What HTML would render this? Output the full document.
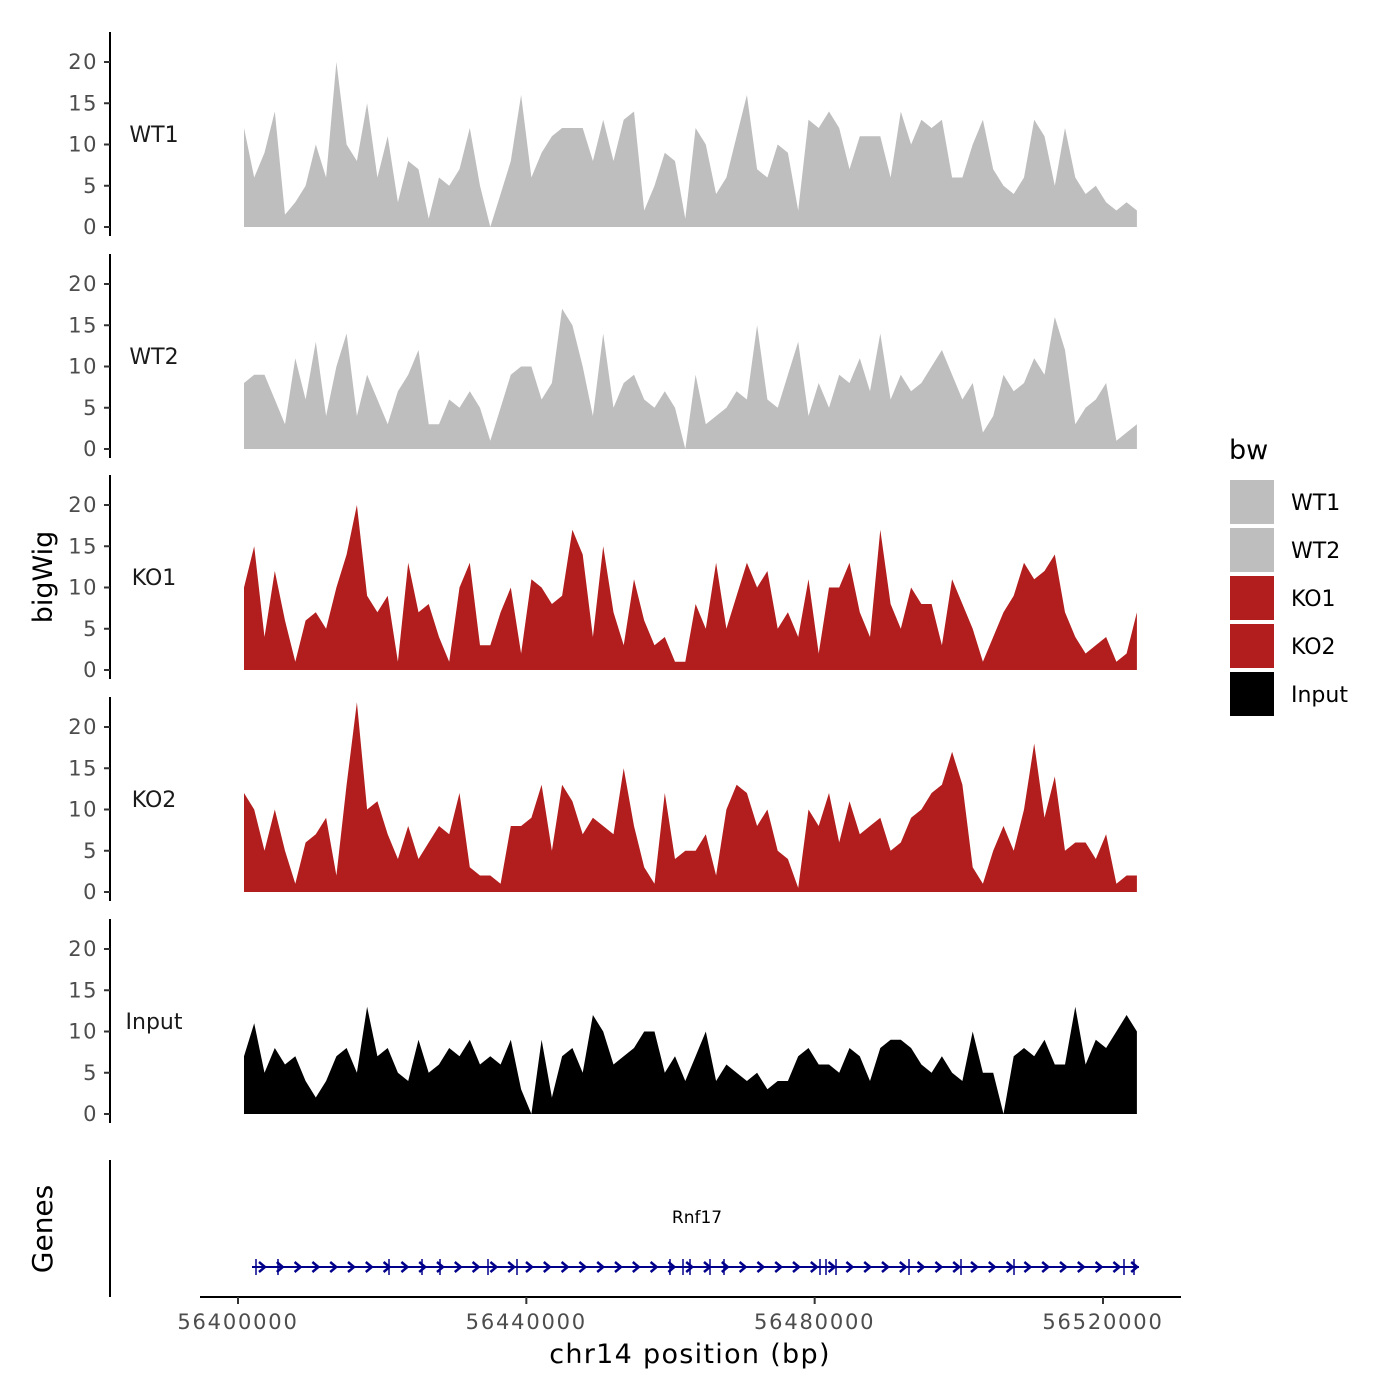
<!DOCTYPE html>
<html><head><meta charset="utf-8"><style>
html,body{margin:0;padding:0;background:#fff}
svg{display:block;font-family:"DejaVu Sans","Liberation Sans",sans-serif}
</style></head><body>
<svg id="chart" width="1400" height="1400" viewBox="0 0 1400 1400" xmlns="http://www.w3.org/2000/svg">
<g id="tracks"></g>
<g id="genes"></g>
<g id="xaxis"></g>
<g id="legend"></g>
</svg>
<script>
const trackNames = ["WT1","WT2","KO1","KO2","Input"];
const trackColors = ["#bebebe","#bebebe","#b21e1e","#b21e1e","#000000"];
const yTicks = [0,5,10,15,20];
const xTicks = [56400000,56440000,56480000,56520000];
const dataStart = 56400830;
const dataEnd = 56524700;
const wt1 = [12,6,9,14,1.5,3,5,10,6,20,10,8,15,6,11,3,8,7,1,6,5,7,12,5,0,4,8,16,6,9,11,12,12,12,8,13,8,13,14,2,5,9,8,1,12,10,4,6,11,16,7,6,10,9,2,13,12,14,12,7,11,11,11,6,14,10,13,12,13,6,6,10,13,7,5,4,6,13,11,5,12,6,4,5,3,2,3,2];
const wt2 = [8,9,9,6,3,11,6,13,4,10,14,4,9,6,3,7,9,12,3,3,6,5,7,5,1,5,9,10,10,6,8,17,15,10,4,14,5,8,9,6,5,7,5,0,9,3,4,5,7,6,15,6,5,9,13,4,8,5,9,8,11,7,14,6,9,7,8,10,12,9,6,8,2,4,9,7,8,11,9,16,12,3,5,6,8,1,2,3];
const ko1 = [10,15,4,12,6,1,6,7,5,10,14,20,9,7,9,1,13,7,8,4,1,10,13,3,3,7,10,2,11,10,8,9,17,14,4,15,7,3,11,6,3,4,1,1,8,5,13,5,9,13,10,12,5,7,4,11,2,10,10,13,7,4,17,8,5,10,8,8,3,11,8,5,1,4,7,9,13,11,12,14,7,4,2,3,4,1,2,7];
const ko2 = [12,10,5,10,5,1,6,7,9,2,13,23,10,11,7,4,8,4,6,8,7,12,3,2,2,1,8,8,9,13,5,13,11,7,9,8,7,15,8,3,1,12,4,5,5,7,2,10,13,12,8,10,5,4,0.5,10,8,12,6,11,7,8,9,5,6,9,10,12,13,17,13,3,1,5,8,5,10,18,9,14,5,6,6,4,7,1,2,2];
const input = [7,11,5,8,6,7,4,2,4,7,8,5,13,7,8,5,4,9,5,6,8,7,9,6,7,6,9,3,0,9,2,7,8,5,12,10,6,7,8,10,10,5,7,4,7,10,4,6,5,4,5,3,4,4,7,8,6,6,5,8,7,4,8,9,9,8,6,5,7,5,4,10,5,5,0,7,8,7,9,6,6,13,6,9,8,10,12,10];
const series = [wt1,wt2,ko1,ko2,input];

const NS="http://www.w3.org/2000/svg";
function el(tag,attrs,parent,text){const e=document.createElementNS(NS,tag);for(const k in attrs)e.setAttribute(k,attrs[k]);if(text!==undefined)e.textContent=text;parent.appendChild(e);return e;}
const xScale = v => 238 + (v-56400000)*865/120000;
const trackZero = [227,449,670,892,1114];
const yScale = (t,v) => trackZero[t] - v*8.25;

const tracks=document.getElementById('tracks');
series.forEach((vals,t)=>{
  const g=el('g',{},tracks);
  
  
  const n=vals.length, step=(dataEnd-dataStart)/(n-1);
  let d='M'+xScale(dataStart).toFixed(1)+','+trackZero[t];
  vals.forEach((v,i)=>{d+=' L'+xScale(dataStart+i*step).toFixed(1)+','+yScale(t,v).toFixed(1);});
  d+=' L'+xScale(dataEnd).toFixed(1)+','+trackZero[t]+' Z';
  const p=el('path',{d:d,fill:trackColors[t]},g);
  
  
  const ax=el('line',{x1:110,x2:110,y1:trackZero[t]-195,y2:trackZero[t]+9,stroke:'#000','stroke-width':2},g);
  
  
  yTicks.forEach(v=>{
    const y=yScale(t,v);
    el('line',{x1:104,x2:110,y1:y,y2:y,stroke:'#333','stroke-width':2},g);
    const tl=el('text',{x:98,y:y+7,'text-anchor':'end','font-size':21,'letter-spacing':1.5,fill:'#4d4d4d'},g,String(v));
    
    
  });
  const lb=el('text',{x:154,y:trackZero[t]-85,'text-anchor':'middle','font-size':22,fill:'#1a1a1a'},g,trackNames[t]);
  
  
});
const yt=el('text',{x:0,y:0,transform:'translate(52,577) rotate(-90)','text-anchor':'middle','font-size':27,fill:'#000'},tracks,'bigWig');



const genes=document.getElementById('genes');
const gl=el('text',{x:0,y:0,transform:'translate(52,1229) rotate(-90)','text-anchor':'middle','font-size':28,fill:'#000'},genes,'Genes');


const gax=el('line',{x1:110,x2:110,y1:1160,y2:1297,stroke:'#000','stroke-width':2},genes);


const gline=el('line',{x1:252,x2:1139,y1:1267,y2:1267,stroke:'#00008b','stroke-width':2},genes);


for(let x=262;x<1135;x+=17.8){el('path',{d:`M${x-3},1262 L${x+3},1267 L${x-3},1272`,fill:'none',stroke:'#00008b','stroke-width':2.5},genes);}
[256,278,389,422,440,488,517,670,683,690,710,724,820,826,836,909,961,1014,1124,1134].forEach(x=>el('line',{x1:x,x2:x,y1:1259,y2:1275,stroke:'#00008b','stroke-width':1.5},genes));
const gn=el('text',{x:697,y:1223,'text-anchor':'middle','font-size':17,fill:'#000'},genes,'Rnf17');



const xa=document.getElementById('xaxis');
const xl=el('line',{x1:200,x2:1181,y1:1297,y2:1297,stroke:'#000','stroke-width':2},xa);


xTicks.forEach(v=>{
  const x=xScale(v);
  el('line',{x1:x,x2:x,y1:1297,y2:1304,stroke:'#333','stroke-width':2},xa);
  const t=el('text',{x:x,y:1329,'text-anchor':'middle','font-size':21,'letter-spacing':1.8,fill:'#4d4d4d'},xa,String(v));
  
  
});
const xt=el('text',{x:690,y:1363,'text-anchor':'middle','font-size':27,'letter-spacing':1.3,fill:'#000'},xa,'chr14 position (bp)');



const lg=document.getElementById('legend');
const lt=el('text',{x:1229,y:459,'font-size':27,fill:'#000'},lg,'bw');


trackNames.forEach((nm,i)=>{
  const y=480+i*48;
  const g=el('g',{},lg);
  
  
  el('rect',{x:1230,y:y,width:44,height:44,fill:trackColors[i]},g);
  el('text',{x:1291,y:y+30,'font-size':22,fill:'#000'},g,nm);
});
</script>
</body></html>
